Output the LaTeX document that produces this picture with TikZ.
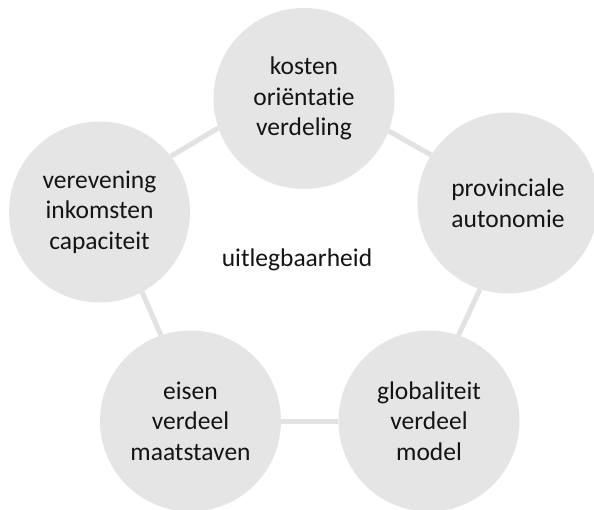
\documentclass[tikz,border=0pt]{standalone}
\usepackage{fontspec}
\setmainfont{Carlito}[Ligatures={CommonOff}]
\definecolor{circfill}{RGB}{229,229,229}
\definecolor{linkcol}{RGB}{226,226,226}
\definecolor{txtcol}{RGB}{20,20,20}
\begin{document}
\begin{tikzpicture}[x=1pt,y=-1pt,
  topic/.style={circle,fill=circfill,draw=none,minimum size=181pt,inner sep=0pt,align=center,
    text=txtcol,font=\fontsize{25.5}{30.5}\selectfont},
  link/.style={draw=linkcol,line width=5pt},
  centrelabel/.style={text=txtcol,font=\fontsize{25.5}{30}\selectfont,inner sep=0pt}]
\useasboundingbox[fill=white] (0,0) rectangle (594,510);
\node[topic] (top) at (304,98.5) {kosten\\oriëntatie\\verdeling};
\node[topic] (left) at (99.5,212) {verevening\\inkomsten\\capaciteit};
\node[topic] (right) at (508,203) {provinciale\\autonomie};
\node[topic] (bl) at (190.5,421) {eisen\\verdeel\\maatstaven};
\node[topic] (br) at (429,421) {globaliteit\\verdeel\\model};
\node[centrelabel,anchor=base] (mid) at (297,266.5) {uitlegbaarheid};
\draw[link] (top.199) -- (left.38);
\draw[link] (top.339) -- (right.148);
\draw[link] (right.252) -- (br.71);
\draw[link] (br.west) -- (bl.east);
\draw[link] (bl.109) -- (left.298);
\end{tikzpicture}
\end{document}
